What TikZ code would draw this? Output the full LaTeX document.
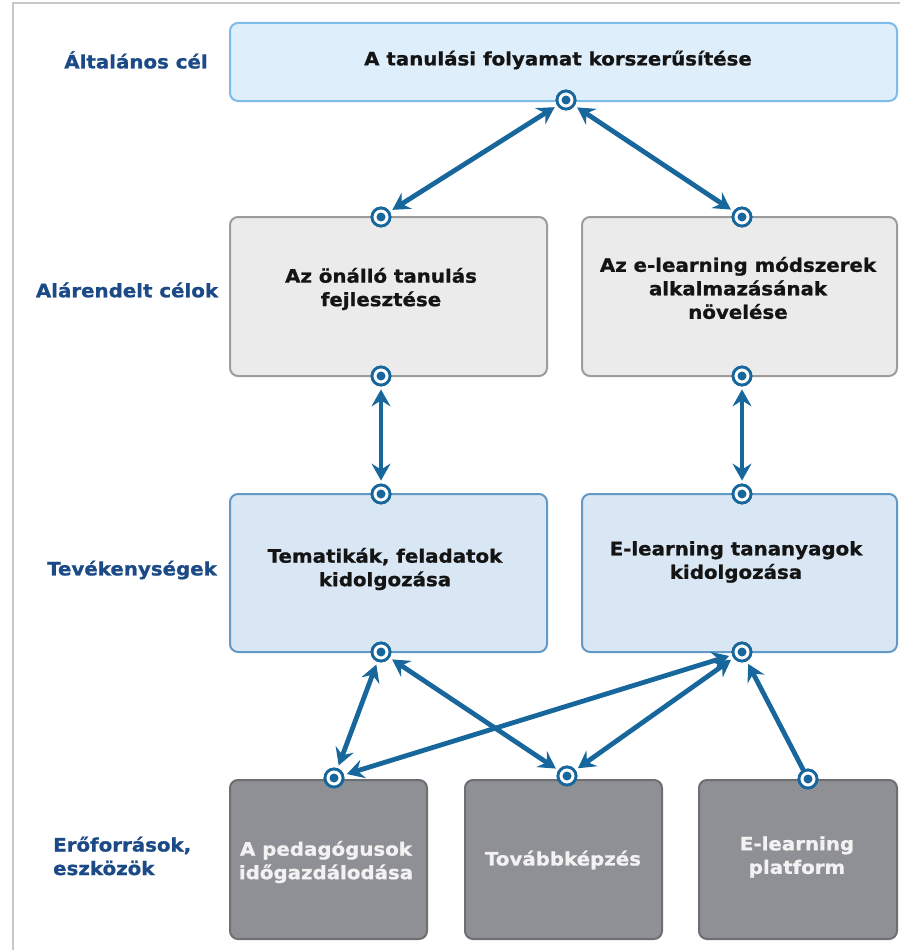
\documentclass[tikz,border=0pt]{standalone}
\usepackage{fontspec}
\setmainfont{DejaVuSans-Bold.ttf}[FakeStretch=1.07,FakeBold=1]
\usetikzlibrary{arrows.meta}
\definecolor{framegray}{HTML}{C8C8C8}
\definecolor{topfill}{HTML}{DEEEFA}
\definecolor{topborder}{HTML}{7DBBE8}
\definecolor{grayfill}{HTML}{EBEBEB}
\definecolor{grayborder}{HTML}{9C9C9C}
\definecolor{actfill}{HTML}{D9E6F3}
\definecolor{actborder}{HTML}{6299C6}
\definecolor{resfill}{HTML}{8F9095}
\definecolor{resborder}{HTML}{6E6F73}
\definecolor{arrowblue}{HTML}{17679C}
\definecolor{labblue}{HTML}{1B4A86}
\definecolor{boxtext}{HTML}{141414}
\definecolor{restext}{HTML}{F2F2F2}
\tikzset{
  frameline/.style={draw=framegray, line width=1.3pt},
  basebox/.style={rectangle, rounded corners=8pt, line width=2pt, inner sep=0pt},
  goalbox/.style={basebox, draw=topborder, fill=topfill},
  subbox/.style={basebox, draw=grayborder, fill=grayfill},
  actbox/.style={basebox, draw=actborder, fill=actfill},
  resbox/.style={basebox, draw=resborder, fill=resfill},
  boxlabel/.style={align=center, text=boxtext, inner sep=0pt},
  reslabel/.style={align=center, text=restext, inner sep=0pt},
  rowlabel/.style={align=center, text=labblue, inner sep=0pt},
  port/.style={circle, draw=arrowblue, line width=2.8pt, fill=white, minimum size=18pt, inner sep=0pt,
    path picture={\fill[arrowblue] (path picture bounding box.center) circle (4.5pt);}},
  tiphead/.tip={Stealth[length=17pt,width=19pt,inset=6pt]},
  conn/.style={draw=arrowblue, line width=4.8pt, tiphead-tiphead, shorten <=3pt, shorten >=3pt},
  oneway/.style={draw=arrowblue, line width=4.8pt, -tiphead, shorten >=3pt},
}
\begin{document}
\begin{tikzpicture}[x=1pt,y=-1pt,font=\fontsize{18.5}{23.5}\selectfont]
\useasboundingbox (0,0) rectangle (900,950);
\draw[frameline] (13,950) -- (13,3) -- (900,3);

% row labels
\node[rowlabel] (lab1) at (136,60) {Általános cél};
\node[rowlabel] (lab2) at (127,290) {Alárendelt célok};
\node[rowlabel] (lab3) at (132,570) {Tevékenységek};
\node[rowlabel, align=left, anchor=west] (lab4) at (53,856) {Erőforrások,\\eszközök};

% boxes
\node[goalbox, minimum width=667pt, minimum height=78pt] (goal) at (563.5,62) {};
\node[subbox, minimum width=317pt, minimum height=159pt] (sub1) at (388.5,296.5) {};
\node[subbox, minimum width=315pt, minimum height=159pt] (sub2) at (739.5,296.5) {};
\node[actbox, minimum width=317pt, minimum height=158pt] (act1) at (388.5,573) {};
\node[actbox, minimum width=315pt, minimum height=158pt] (act2) at (739.5,573) {};
\node[resbox, minimum width=197pt, minimum height=159pt] (res1) at (328.5,859.5) {};
\node[resbox, minimum width=197pt, minimum height=159pt] (res2) at (563.5,859.5) {};
\node[resbox, minimum width=198pt, minimum height=159pt] (res3) at (798,859.5) {};

% box texts
\node[boxlabel] (tgoal) at (558,60) {A tanulási folyamat korszerűsítése};
\node[boxlabel] (tsub1) at (381,289) {Az önálló tanulás\\fejlesztése};
\node[boxlabel] (tsub2) at (738,288) {Az e-learning módszerek\\alkalmazásának\\növelése};
\node[boxlabel] (tact1) at (385,569) {Tematikák, feladatok\\kidolgozása};
\node[boxlabel] (tact2) at (736,562) {E-learning tananyagok\\kidolgozása};
\node[reslabel] (tres1) at (326,862) {A pedagógusok\\időgazdálodása};
\node[reslabel] (tres2) at (563,860) {Továbbképzés};
\node[reslabel] (tres3) at (797,857) {E-learning\\platform};

% ports
\node[port] (p0) at (566,100) {};
\node[port] (p1) at (381,217) {};
\node[port] (p2) at (742,217) {};
\node[port] (p3) at (381,376) {};
\node[port] (p4) at (742,376) {};
\node[port] (p5) at (381,494) {};
\node[port] (p6) at (742,494) {};
\node[port] (p7) at (381,652) {};
\node[port] (p8) at (742,652) {};
\node[port] (p9) at (334,778) {};
\node[port] (p10) at (567,776) {};
\node[port] (p11) at (808,779) {};

% connectors
\draw[conn] (p1) -- (p0);
\draw[conn] (p2) -- (p0);
\draw[conn] (p3) -- (p5);
\draw[conn] (p4) -- (p6);
\draw[conn] (p9) -- (p7);
\draw[conn] (p10) -- (p7);
\draw[conn] (p9) -- (p8);
\draw[conn] (p10) -- (p8);
\draw[oneway] (p11.center) -- (p8);

% redraw ports on top
\foreach \p in {p0,p1,p2,p3,p4,p5,p6,p7,p8,p9,p10,p11}{
  \node[port] at (\p) {};
}
\end{tikzpicture}
\end{document}
